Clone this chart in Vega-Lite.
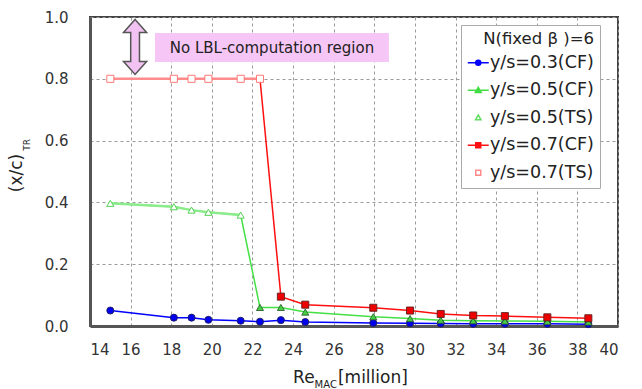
{
  "$schema": "https://vega.github.io/schema/vega-lite/v6.json",
  "width": 528,
  "height": 309,
  "autosize": {"type": "none"},
  "padding": {"left": 90, "top": 17, "right": 24, "bottom": 63},
  "background": "white",
  "config": {
    "font": "DejaVu Sans",
    "view": {"stroke": "#444", "strokeWidth": 2},
    "axis": {
      "grid": true,
      "gridColor": "#9a9a9a",
      "gridDash": [3, 3],
      "gridWidth": 1,
      "domainColor": "#555",
      "domainWidth": 3,
      "ticks": false,
      "labelFont": "DejaVu Sans",
      "labelFontSize": 15,
      "labelColor": "#333",
      "title": null
    }
  },
  "resolve": {"scale": {"shape": "independent", "fill": "independent", "stroke": "independent", "color": "independent"}},
  "data": {
    "values": [
      {"re": 15.0, "xc": 0.050, "series": "y/s=0.3(CF)", "grp": "0.3"},
      {"re": 18.13, "xc": 0.027, "series": "y/s=0.3(CF)", "grp": "0.3"},
      {"re": 19.0, "xc": 0.027, "series": "y/s=0.3(CF)", "grp": "0.3"},
      {"re": 19.83, "xc": 0.020, "series": "y/s=0.3(CF)", "grp": "0.3"},
      {"re": 21.42, "xc": 0.017, "series": "y/s=0.3(CF)", "grp": "0.3"},
      {"re": 22.37, "xc": 0.014, "series": "y/s=0.3(CF)", "grp": "0.3"},
      {"re": 23.4, "xc": 0.019, "series": "y/s=0.3(CF)", "grp": "0.3"},
      {"re": 24.6, "xc": 0.013, "series": "y/s=0.3(CF)", "grp": "0.3"},
      {"re": 27.95, "xc": 0.010, "series": "y/s=0.3(CF)", "grp": "0.3"},
      {"re": 29.76, "xc": 0.009, "series": "y/s=0.3(CF)", "grp": "0.3"},
      {"re": 31.27, "xc": 0.008, "series": "y/s=0.3(CF)", "grp": "0.3"},
      {"re": 32.87, "xc": 0.007, "series": "y/s=0.3(CF)", "grp": "0.3"},
      {"re": 34.43, "xc": 0.007, "series": "y/s=0.3(CF)", "grp": "0.3"},
      {"re": 36.52, "xc": 0.007, "series": "y/s=0.3(CF)", "grp": "0.3"},
      {"re": 38.54, "xc": 0.006, "series": "y/s=0.3(CF)", "grp": "0.3"},
      {"re": 15.0, "xc": 0.397, "series": "y/s=0.5(TS)", "grp": "0.5"},
      {"re": 18.13, "xc": 0.386, "series": "y/s=0.5(TS)", "grp": "0.5"},
      {"re": 19.0, "xc": 0.375, "series": "y/s=0.5(TS)", "grp": "0.5"},
      {"re": 19.83, "xc": 0.368, "series": "y/s=0.5(TS)", "grp": "0.5"},
      {"re": 21.42, "xc": 0.359, "series": "y/s=0.5(TS)", "grp": "0.5"},
      {"re": 22.37, "xc": 0.060, "series": "y/s=0.5(CF)", "grp": "0.5"},
      {"re": 23.4, "xc": 0.060, "series": "y/s=0.5(CF)", "grp": "0.5"},
      {"re": 24.6, "xc": 0.045, "series": "y/s=0.5(CF)", "grp": "0.5"},
      {"re": 27.95, "xc": 0.030, "series": "y/s=0.5(CF)", "grp": "0.5"},
      {"re": 29.76, "xc": 0.024, "series": "y/s=0.5(CF)", "grp": "0.5"},
      {"re": 31.27, "xc": 0.019, "series": "y/s=0.5(CF)", "grp": "0.5"},
      {"re": 32.87, "xc": 0.017, "series": "y/s=0.5(CF)", "grp": "0.5"},
      {"re": 34.43, "xc": 0.016, "series": "y/s=0.5(CF)", "grp": "0.5"},
      {"re": 36.52, "xc": 0.015, "series": "y/s=0.5(CF)", "grp": "0.5"},
      {"re": 38.54, "xc": 0.013, "series": "y/s=0.5(CF)", "grp": "0.5"},
      {"re": 15.0, "xc": 0.80, "series": "y/s=0.7(TS)", "grp": "0.7"},
      {"re": 18.13, "xc": 0.80, "series": "y/s=0.7(TS)", "grp": "0.7"},
      {"re": 19.0, "xc": 0.80, "series": "y/s=0.7(TS)", "grp": "0.7"},
      {"re": 19.83, "xc": 0.80, "series": "y/s=0.7(TS)", "grp": "0.7"},
      {"re": 21.42, "xc": 0.80, "series": "y/s=0.7(TS)", "grp": "0.7"},
      {"re": 22.37, "xc": 0.80, "series": "y/s=0.7(TS)", "grp": "0.7"},
      {"re": 23.4, "xc": 0.095, "series": "y/s=0.7(CF)", "grp": "0.7"},
      {"re": 24.6, "xc": 0.069, "series": "y/s=0.7(CF)", "grp": "0.7"},
      {"re": 27.95, "xc": 0.059, "series": "y/s=0.7(CF)", "grp": "0.7"},
      {"re": 29.76, "xc": 0.050, "series": "y/s=0.7(CF)", "grp": "0.7"},
      {"re": 31.27, "xc": 0.039, "series": "y/s=0.7(CF)", "grp": "0.7"},
      {"re": 32.87, "xc": 0.034, "series": "y/s=0.7(CF)", "grp": "0.7"},
      {"re": 34.43, "xc": 0.032, "series": "y/s=0.7(CF)", "grp": "0.7"},
      {"re": 36.52, "xc": 0.028, "series": "y/s=0.7(CF)", "grp": "0.7"},
      {"re": 38.54, "xc": 0.025, "series": "y/s=0.7(CF)", "grp": "0.7"}
    ]
  },
  "layer": [
    {
      "data": {"values": [{}]},
      "mark": {"type": "rect", "fill": "#f6c6f6"},
      "encoding": {
        "x": {"datum": 17.2, "type": "quantitative", "scale": {"domain": [14, 40], "nice": false},
              "axis": {"values": [14, 16, 18, 20, 22, 24, 26, 28, 30, 32, 34, 36, 38, 40], "labelPadding": 16, "title": null}},
        "x2": {"datum": 28.72},
        "y": {"datum": 0.948, "type": "quantitative", "scale": {"domain": [0, 1], "nice": false},
              "axis": {"values": [0, 0.2, 0.4, 0.6, 0.8, 1.0], "format": ".1f", "labelPadding": 22, "title": null}},
        "y2": {"datum": 0.854}
      }
    },
    {
      "data": {"values": [{}]},
      "mark": {"type": "text", "text": "No LBL-computation region", "fontSize": 15, "color": "#222", "align": "center", "baseline": "middle"},
      "encoding": {
        "x": {"datum": 22.96, "type": "quantitative"},
        "y": {"datum": 0.901, "type": "quantitative"}
      }
    },
    {
      "data": {"values": [{}]},
      "mark": {
        "type": "point",
        "shape": "M0,-1L0.42,-0.53L0.16,-0.53L0.16,0.53L0.42,0.53L0,1L-0.42,0.53L-0.16,0.53L-0.16,-0.53L-0.42,-0.53Z",
        "size": 3025,
        "filled": true,
        "fill": "#f2c2f2",
        "fillOpacity": 1,
        "stroke": "#555",
        "strokeWidth": 1.5,
        "opacity": 1
      },
      "encoding": {
        "x": {"datum": 16.22, "type": "quantitative"},
        "y": {"datum": 0.903, "type": "quantitative"}
      }
    },
    {
      "mark": {"type": "line", "strokeWidth": 1.5},
      "encoding": {
        "x": {"field": "re", "type": "quantitative"},
        "y": {"field": "xc", "type": "quantitative"},
        "color": {
          "field": "grp", "type": "nominal", "legend": null,
          "scale": {"domain": ["0.3", "0.5", "0.7"], "range": ["#0000ff", "#44e044", "#ff1010"]}
        },
        "order": {"field": "re", "type": "quantitative"}
      }
    },
    {
      "transform": [{"filter": "indexof(datum.series, 'TS') >= 0"}],
      "mark": {"type": "line", "strokeWidth": 2.5},
      "encoding": {
        "x": {"field": "re", "type": "quantitative"},
        "y": {"field": "xc", "type": "quantitative"},
        "color": {
          "field": "series", "type": "nominal", "legend": null,
          "scale": {"domain": ["y/s=0.5(TS)", "y/s=0.7(TS)"], "range": ["#8cec8c", "#ff8c8c"]}
        },
        "order": {"field": "re", "type": "quantitative"}
      }
    },
    {
      "mark": {"type": "point", "size": 50, "strokeWidth": 0.9, "opacity": 1, "fillOpacity": 1},
      "encoding": {
        "x": {"field": "re", "type": "quantitative"},
        "y": {"field": "xc", "type": "quantitative"},
        "shape": {
          "field": "series", "type": "nominal", "legend": null,
          "scale": {
            "domain": ["y/s=0.3(CF)", "y/s=0.5(CF)", "y/s=0.5(TS)", "y/s=0.7(CF)", "y/s=0.7(TS)"],
            "range": ["circle", "triangle-up", "triangle-up", "square", "square"]
          }
        },
        "fill": {
          "field": "series", "type": "nominal", "legend": null,
          "scale": {
            "domain": ["y/s=0.3(CF)", "y/s=0.5(CF)", "y/s=0.5(TS)", "y/s=0.7(CF)", "y/s=0.7(TS)"],
            "range": ["#0000ee", "#44d044", "#ffffff", "#ee0000", "#ffffff"]
          }
        },
        "stroke": {
          "field": "series", "type": "nominal", "legend": null,
          "scale": {
            "domain": ["y/s=0.3(CF)", "y/s=0.5(CF)", "y/s=0.5(TS)", "y/s=0.7(CF)", "y/s=0.7(TS)"],
            "range": ["#202060", "#306030", "#44cc44", "#602020", "#ff6a6a"]
          }
        }
      }
    },
    {
      "transform": [{"filter": "false"}],
      "mark": {"type": "point", "filled": true, "opacity": 1, "fillOpacity": 1, "strokeWidth": 1.5},
      "encoding": {
        "x": {"field": "re", "type": "quantitative"},
        "y": {"field": "xc", "type": "quantitative"},
        "shape": {
          "field": "series", "type": "nominal",
          "scale": {
            "domain": ["y/s=0.3(CF)", "y/s=0.5(CF)", "y/s=0.5(TS)", "y/s=0.7(CF)", "y/s=0.7(TS)"],
            "range": [
              "M-2.1,0H2.1M0.5,0A0.5,0.5,0,1,1,-0.5,0A0.5,0.5,0,1,1,0.5,0Z",
              "M-2.1,0H2.1M0,-0.6L0.6,0.45L-0.6,0.45Z",
              "M0,-0.55L0.55,0.4L-0.55,0.4Z",
              "M-2.1,0H2.1M-0.5,-0.5H0.5V0.5H-0.5Z",
              "M-0.5,-0.5H0.5V0.5H-0.5Z"
            ]
          },
          "legend": {
            "orient": "none",
            "legendX": 371,
            "legendY": 8,
            "title": "N(fixed β )=6",
            "titleFont": "DejaVu Sans",
            "titleFontSize": 16.5,
            "titleFontWeight": "normal",
            "titleColor": "#222",
            "titleAnchor": "end",
            "titlePadding": 6.5,
            "labelFont": "DejaVu Sans",
            "labelFontSize": 17.5,
            "labelColor": "#222",
            "labelOffset": 3,
            "labelExpr": "datum.label + '  '",
            "symbolSize": 100,
            "symbolOffset": 2.5,
            "symbolStrokeWidth": 1.5,
            "rowPadding": 8.5,
            "padding": 6,
            "strokeColor": "#aaa",
            "fillColor": "white",
            "cornerRadius": 0
          }
        },
        "fill": {
          "field": "series", "type": "nominal",
          "scale": {
            "domain": ["y/s=0.3(CF)", "y/s=0.5(CF)", "y/s=0.5(TS)", "y/s=0.7(CF)", "y/s=0.7(TS)"],
            "range": ["#0000ff", "#44dd44", "#ffffff", "#ff1010", "#ffffff"]
          }
        },
        "stroke": {
          "field": "series", "type": "nominal",
          "scale": {
            "domain": ["y/s=0.3(CF)", "y/s=0.5(CF)", "y/s=0.5(TS)", "y/s=0.7(CF)", "y/s=0.7(TS)"],
            "range": ["#0000ff", "#44dd44", "#66dd66", "#ff1010", "#ff8a8a"]
          }
        }
      }
    },
    {
      "data": {"values": [{}]},
      "mark": {"type": "text", "text": "Re", "fontSize": 17, "color": "#222", "align": "left", "baseline": "middle"},
      "encoding": {"x": {"datum": 24.0, "type": "quantitative"}, "y": {"datum": -0.168, "type": "quantitative"}}
    },
    {
      "data": {"values": [{}]},
      "mark": {"type": "text", "text": "MAC", "fontSize": 10, "color": "#222", "align": "left", "baseline": "middle"},
      "encoding": {"x": {"datum": 25.06, "type": "quantitative"}, "y": {"datum": -0.192, "type": "quantitative"}}
    },
    {
      "data": {"values": [{}]},
      "mark": {"type": "text", "text": "[million]", "fontSize": 17, "color": "#222", "align": "left", "baseline": "middle"},
      "encoding": {"x": {"datum": 26.21, "type": "quantitative"}, "y": {"datum": -0.168, "type": "quantitative"}}
    },
    {
      "data": {"values": [{}]},
      "mark": {"type": "text", "text": "(x/c)", "fontSize": 17, "color": "#222", "align": "center", "baseline": "middle", "angle": 270},
      "encoding": {"x": {"datum": 10.4, "type": "quantitative"}, "y": {"datum": 0.495, "type": "quantitative"}}
    },
    {
      "data": {"values": [{}]},
      "mark": {"type": "text", "text": "TR", "fontSize": 9, "color": "#222", "align": "center", "baseline": "middle", "angle": 270},
      "encoding": {"x": {"datum": 10.9, "type": "quantitative"}, "y": {"datum": 0.586, "type": "quantitative"}}
    }
  ]
}
